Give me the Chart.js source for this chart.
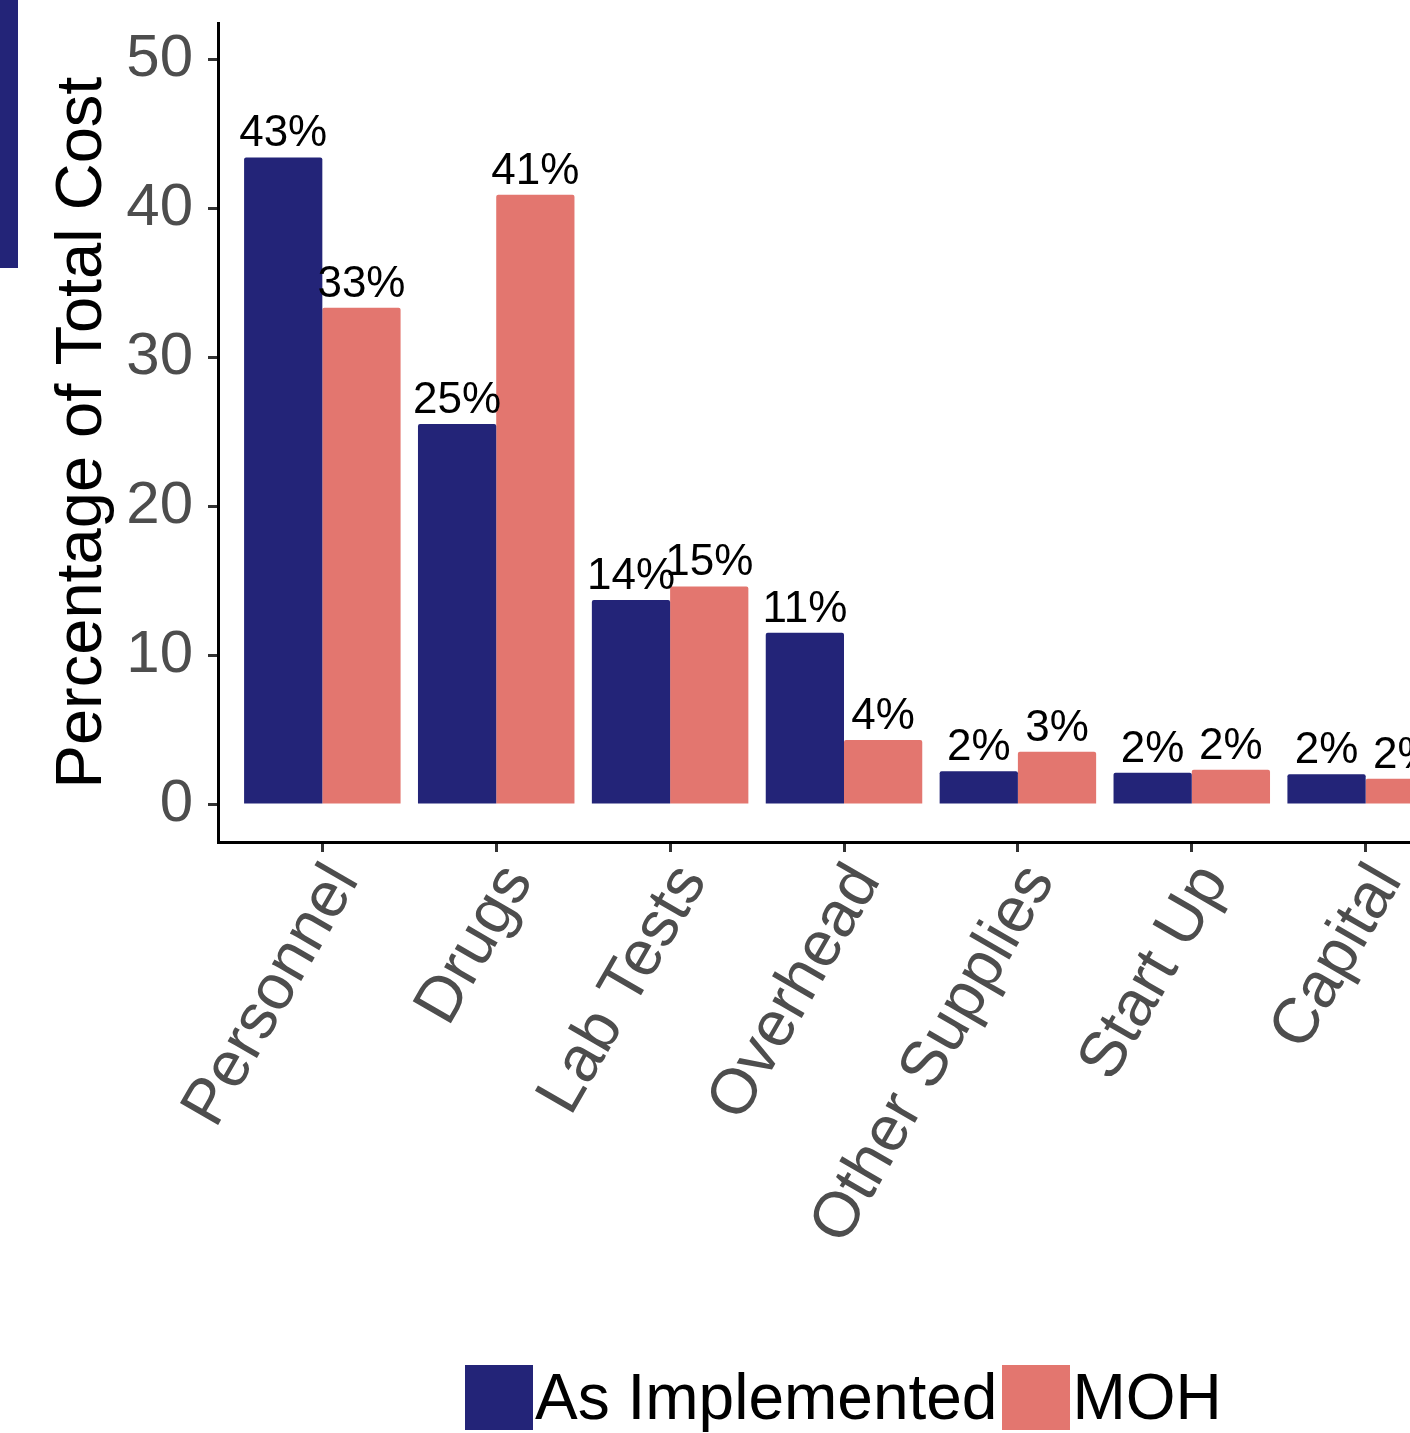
<!DOCTYPE html>
<html>
<head>
<meta charset="utf-8">
<script src="https://cdn.jsdelivr.net/npm/chart.js@4.4.0/dist/chart.umd.min.js"></script>
<style>
  html, body { margin: 0; padding: 0; background: #fff; overflow: hidden; }
  #wrap { position: relative; width: 1410px; height: 1433px; overflow: hidden; }
  #costChart { position: absolute; left: 0; top: 0; }
  #sideBar { position: absolute; left: 0; top: 0; width: 18px; height: 268px; background: #232478; }
  #legend { position: absolute; left: 465px; top: 1365px; display: flex; white-space: nowrap;
            font-family: "Liberation Sans", Arial, sans-serif; font-size: 64px; line-height: 65px; color: #000; }
  #legend .key { display: inline-block; width: 68px; height: 65px; }
  #legend .lab { margin-left: 2px; margin-right: 5px; }
</style>
</head>
<body>
<div id="wrap">
  <canvas id="costChart" width="1480" height="1433"></canvas>
  <div id="sideBar"></div>
  <div id="legend"></div>
</div>
<script>
// Data
const categories = ['Personnel', 'Drugs', 'Lab Tests', 'Overhead', 'Other Supplies', 'Start Up', 'Capital'];
const seriesNames = ['As Implemented', 'MOH'];
const asImplemented = [43.4, 25.5, 13.7, 11.5, 2.2, 2.1, 2.0];
const moh = [33.3, 40.9, 14.6, 4.3, 3.5, 2.3, 1.7];
const asImplementedLabels = ['43%', '25%', '14%', '11%', '2%', '2%', '2%'];
const mohLabels = ['33%', '41%', '15%', '4%', '3%', '2%', '2%'];
const yTicks = [0, 10, 20, 30, 40, 50];

const colors = ['#232478', '#e3766f'];
const fontFamily = '"Liberation Sans", Arial, sans-serif';

// percent labels above each bar
const barLabels = {
    id: 'barLabels',
    afterDatasetsDraw(chart) {
        const ctx = chart.ctx;
        ctx.save();
        ctx.font = '44px ' + fontFamily;
        ctx.fillStyle = '#000';
        ctx.textAlign = 'center';
        ctx.textBaseline = 'alphabetic';
        chart.data.datasets.forEach((ds, i) => {
            chart.getDatasetMeta(i).data.forEach((bar, j) => {
                ctx.fillText(ds.valueLabels[j], bar.x, bar.y - 11);
            });
        });
        ctx.restore();
    }
};

const toPoints = (vals) => vals.map((v, i) => ({ x: i, y: v }));

new Chart(document.getElementById('costChart'), {
    type: 'bar',
    data: {
        datasets: [
            {
                label: seriesNames[0],
                data: toPoints(asImplemented),
                valueLabels: asImplementedLabels,
                backgroundColor: colors[0],
                borderRadius: 2,
                categoryPercentage: 0.9,
                barPercentage: 1.0
            },
            {
                label: seriesNames[1],
                data: toPoints(moh),
                valueLabels: mohLabels,
                backgroundColor: colors[1],
                borderRadius: 2,
                categoryPercentage: 0.9,
                barPercentage: 1.0
            }
        ]
    },
    options: {
        responsive: false,
        animation: false,
        devicePixelRatio: 1,
        layout: { padding: { left: 0, top: 23, right: 10, bottom: 0 } },
        plugins: {
            legend: { display: false },
            tooltip: { enabled: false }
        },
        scales: {
            x: {
                type: 'linear',
                min: -0.6,
                max: 6.6,
                offset: false,
                grid: { offset: false, drawOnChartArea: false, drawTicks: true, tickLength: 10, tickColor: '#333', tickWidth: 3 },
                border: { display: true, color: '#000', width: 3 },
                ticks: {
                    stepSize: 1,
                    includeBounds: false,
                    autoSkip: false,
                    minRotation: 60,
                    maxRotation: 60,
                    padding: 0,
                    labelOffset: 22,
                    color: '#4d4d4d',
                    font: { family: fontFamily, size: 64 },
                    callback: (v) => categories[v] ?? ''
                },
                afterFit: (axis) => {
                    axis.height = 1433 - 842;
                    axis.paddingLeft = 0;
                    axis.paddingRight = 0;
                }
            },
            y: {
                min: -2.55,
                max: 52.42,
                grid: { drawOnChartArea: false, drawTicks: true, tickLength: 10, tickColor: '#333', tickWidth: 3 },
                border: { display: true, color: '#000', width: 3 },
                ticks: {
                    stepSize: 10,
                    includeBounds: false,
                    padding: 15,
                    color: '#4d4d4d',
                    font: { family: fontFamily, size: 60 },
                    callback: (v) => yTicks.includes(v) ? String(v) : ''
                },
                title: {
                    display: true,
                    text: 'Percentage of Total Cost',
                    color: '#000',
                    font: { family: fontFamily, size: 65 },
                    padding: { top: 44, bottom: 0 }
                },
                afterFit: (axis) => {
                    axis.width = 218;
                    axis.paddingTop = 0;
                    axis.paddingBottom = 0;
                }
            }
        }
    },
    plugins: [barLabels]
});

// legend below the plot
const legend = document.getElementById('legend');
seriesNames.forEach((name, i) => {
    const key = document.createElement('span');
    key.className = 'key';
    key.style.background = colors[i];
    const lab = document.createElement('span');
    lab.className = 'lab';
    lab.textContent = name;
    legend.appendChild(key);
    legend.appendChild(lab);
});
</script>
</body>
</html>
